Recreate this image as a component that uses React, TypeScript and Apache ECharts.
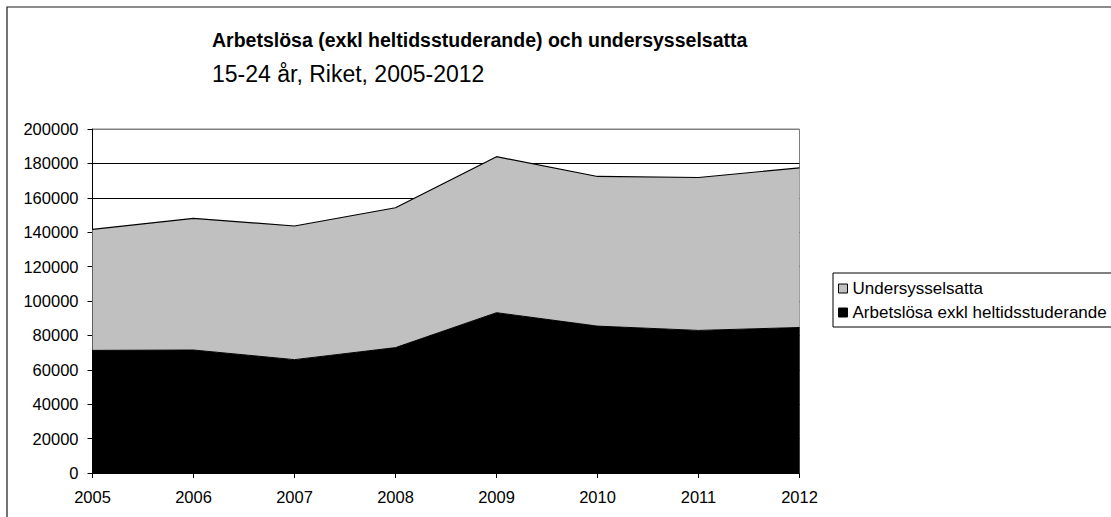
import React, { useEffect, useRef } from "react";
import * as echarts from "echarts";

const years = ["2005", "2006", "2007", "2008", "2009", "2010", "2011", "2012"];
const arbetslosa = [71300, 71500, 65900, 72900, 93200, 85400, 82900, 84600];
const undersysselsatta = [70300, 76500, 77700, 81300, 90700, 87000, 88900, 92800];

const titleText = "Arbetslösa (exkl heltidsstuderande) och undersysselsatta";
const subText = "15-24 år, Riket, 2005-2012";
const nameUnder = "Undersysselsatta";
const nameArb = "Arbetslösa exkl heltidsstuderande";

const FONT = "'Liberation Sans', Arial, sans-serif";

export default function App() {
  const ref = useRef<HTMLDivElement>(null);
  useEffect(() => {
    if (!ref.current) return;
    const chart = echarts.init(ref.current, null, { renderer: "svg" });
    const splitColors = Array.from({ length: 11 }, (_, i) => (i === 10 ? "#808080" : "#000000"));
    chart.setOption({
      animation: false,
      backgroundColor: "#ffffff",
      textStyle: { fontFamily: FONT },
      title: {
        text: titleText,
        subtext: subText,
        left: 212,
        top: 30,
        itemGap: 12,
        padding: 0,
        textStyle: { fontFamily: FONT, fontSize: 19.5, fontWeight: "bold", color: "#000" },
        subtextStyle: { fontFamily: FONT, fontSize: 23, color: "#000" },
      },
      graphic: [
        {
          type: "rect",
          shape: { x: 7, y: 7, width: 1130, height: 540 },
          style: { fill: "none", stroke: "#1a1a1a", lineWidth: 1.2 },
          silent: true,
        },
      ],
      legend: {
        orient: "vertical",
        left: 833,
        top: 273,
        padding: [7, 6, 6, 5],
        itemGap: 7,
        itemWidth: 9,
        itemHeight: 9,
        borderColor: "#000",
        borderWidth: 1,
        textStyle: { fontFamily: FONT, fontSize: 17, color: "#000", padding: [0, 0, 0, 0] },
        data: [
          { name: nameUnder, icon: "rect", itemStyle: { color: "#C0C0C0", borderColor: "#000", borderWidth: 1 } },
          { name: nameArb, icon: "rect", itemStyle: { color: "#000", borderColor: "#000", borderWidth: 1 } },
        ],
      },
      grid: {
        left: 92.5,
        right: 311.5,
        top: 129,
        bottom: 44,
        show: true,
        borderColor: "#808080",
        borderWidth: 1,
        backgroundColor: "transparent",
      },
      xAxis: {
        type: "category",
        data: years,
        boundaryGap: false,
        axisLine: { lineStyle: { color: "#000", width: 1 } },
        axisTick: { show: true, length: 5, lineStyle: { color: "#000" } },
        axisLabel: { color: "#000", fontSize: 16.5, fontFamily: FONT, margin: 15 },
        splitLine: { show: false },
      },
      yAxis: {
        type: "value",
        min: 0,
        max: 200000,
        interval: 20000,
        axisLine: { show: true, lineStyle: { color: "#000", width: 1 } },
        axisTick: { show: true, length: 5, lineStyle: { color: "#000" } },
        axisLabel: {
          color: "#000",
          fontSize: 16.5,
          fontFamily: FONT,
          margin: 14,
          formatter: (v: number) => String(v),
        },
        splitLine: { show: true, lineStyle: { color: splitColors, width: 1 } },
      },
      series: [
        {
          name: nameArb,
          type: "line",
          stack: "total",
          data: arbetslosa,
          symbol: "none",
          lineStyle: { color: "#000", width: 1 },
          itemStyle: { color: "#000" },
          areaStyle: { color: "#000", opacity: 1 },
        },
        {
          name: nameUnder,
          type: "line",
          stack: "total",
          data: undersysselsatta,
          symbol: "none",
          lineStyle: { color: "#000", width: 1.2 },
          itemStyle: { color: "#C0C0C0" },
          areaStyle: { color: "#C0C0C0", opacity: 1 },
        },
      ],
    });
    return () => chart.dispose();
  }, []);
  return (
    <div
      ref={ref}
      style={{ position: "absolute", left: 0, top: 0, width: 1111, height: 517, background: "#fff" }}
    />
  );
}
